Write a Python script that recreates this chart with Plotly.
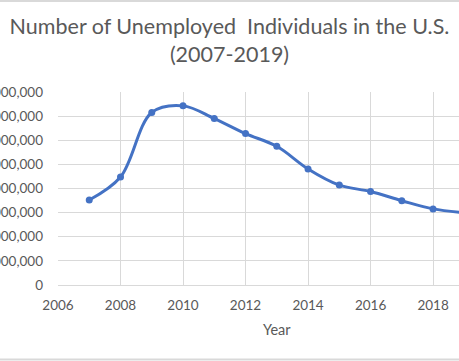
import plotly.graph_objects as go

# ---- data ----
years = [2007, 2008, 2009, 2010, 2011, 2012, 2013, 2014, 2015, 2016, 2017, 2018, 2019]
unemployed = [7050000, 8950000, 14300000, 14850000, 13800000, 12550000, 11500000,
              9620000, 8280000, 7750000, 6990000, 6310000, 6000000]
y_tick_vals = [0, 2000000, 4000000, 6000000, 8000000, 10000000, 12000000, 14000000, 16000000]
x_tick_vals = [2006, 2008, 2010, 2012, 2014, 2016, 2018, 2020]
title_text = "Number of Unemployed  Individuals in the U.S.<br>(2007-2019)"
x_title = "Year"

FONT = "Lato"
GREY = "#595959"
GRID = "#d9d9d9"
BLUE = "#4472C4"

fig = go.Figure()
fig.add_trace(go.Scatter(
    x=years, y=unemployed, mode="lines+markers",
    line=dict(color=BLUE, width=3, shape="spline", smoothing=1.0),
    marker=dict(color=BLUE, size=7),
    showlegend=False, hoverinfo="skip",
))

fig.update_layout(
    width=459, height=361, autosize=False,
    template="none",
    paper_bgcolor="white", plot_bgcolor="white",
    margin=dict(l=58, r=0, t=92, b=76, pad=0),
    font=dict(family=FONT, color=GREY),
    title=dict(text=title_text, x=0.5, xanchor="center", xref="container",
               y=0.907, yanchor="top", yref="container",
               font=dict(family=FONT, size=21.5, color=GREY)),
    xaxis=dict(range=[2006, 2018.83], tickvals=x_tick_vals, showgrid=True, gridcolor=GRID,
               gridwidth=1, zeroline=False, showline=True, linecolor=GRID, linewidth=1,
               ticks="", tickfont=dict(family=FONT, size=13.5, color=GREY),
               ticklabelstandoff=8, automargin=False),
    yaxis=dict(range=[0, 16000000], tickvals=y_tick_vals, tickformat=",", showgrid=True,
               gridcolor=GRID, gridwidth=1, zeroline=False, showline=False,
               ticks="", tickfont=dict(family=FONT, size=13.5, color=GREY),
               ticklabelstandoff=14, automargin=False),
    annotations=[dict(text=x_title, xref="paper", yref="paper", x=0.546, y=-0.228,
                      xanchor="center", yanchor="middle", showarrow=False,
                      font=dict(family=FONT, size=14.5, color=GREY))],
    shapes=[
        dict(type="line", xref="paper", yref="paper", x0=-0.2, x1=1.0, y0=1.4715, y1=1.4715,
             line=dict(color=GRID, width=2)),
        dict(type="line", xref="paper", yref="paper", x0=-0.2, x1=1.0, y0=-0.386, y1=-0.386,
             line=dict(color=GRID, width=2)),
    ],
)

fig.write_html("out.html",
               config={"displayModeBar": False},
               post_script="document.body.style.margin='0';document.body.style.overflow='hidden';")
